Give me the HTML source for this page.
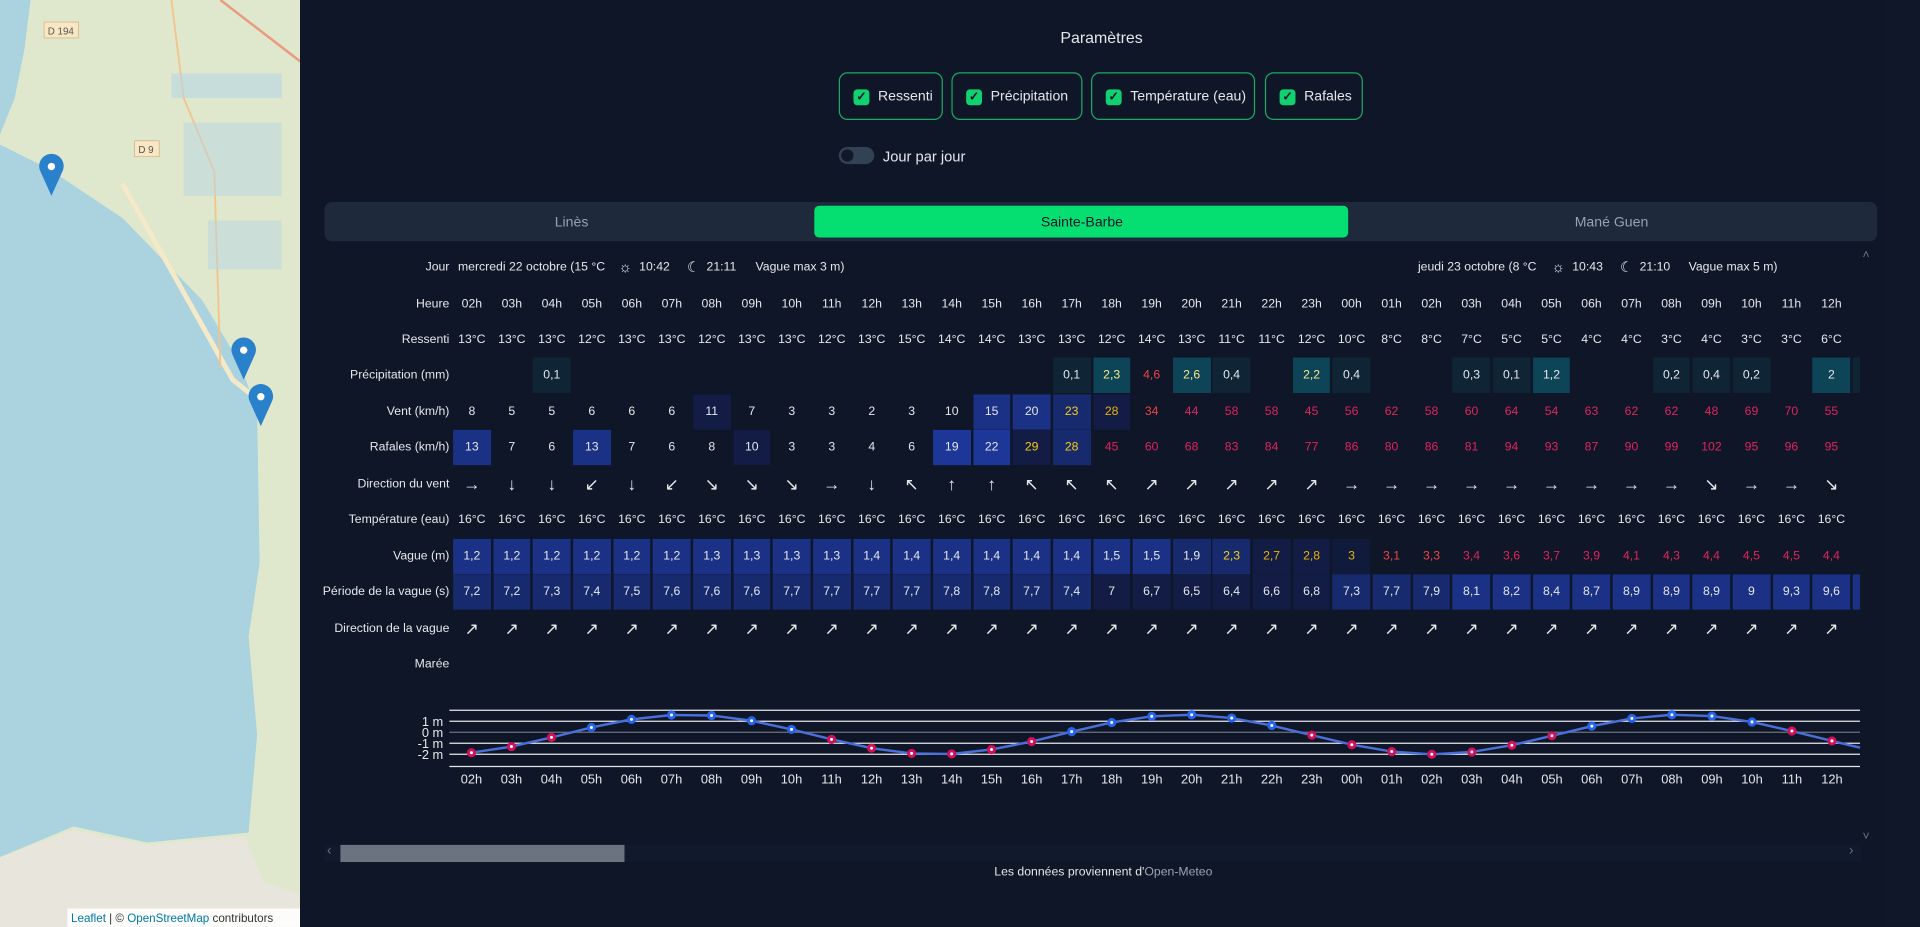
<!DOCTYPE html>
<html><head><meta charset="utf-8"><style>
html,body{margin:0;padding:0;width:1920px;height:927px;overflow:hidden;background:#0e1627;}
#w{position:absolute;left:0;top:0;width:1568px;height:757px;transform:scale(1.22449);transform-origin:0 0;font-family:"Liberation Sans",sans-serif;color:#e5e7eb;background:#0e1627;}
.a{position:absolute;}
.btn{position:absolute;top:59px;height:39px;border:1px solid #1fa866;border-radius:7px;font-size:11.5px;line-height:39px;box-sizing:border-box;padding-left:31px;color:#e5e7eb;}
.btn:before{content:"✓";position:absolute;left:11px;top:13px;width:13px;height:13px;background:#10d070;border-radius:3px;color:#0e1627;font-size:10px;line-height:13px;text-align:center;font-weight:bold;}
.row{position:absolute;left:0;width:1568px;height:29px;font-size:10px;}
.lab{position:absolute;right:1201px;top:0;line-height:29px;white-space:nowrap;}
.cs{position:absolute;left:370px;top:0;width:1149px;height:29px;overflow:hidden;white-space:nowrap;font-size:0;}
.cs span{display:inline-block;width:30.7px;margin-right:1.98px;height:29px;line-height:29px;text-align:center;font-size:10px;vertical-align:top;}
.ar span{font-size:14px;}
.b1{background:#121c44}.b2{background:#172a6e}.b3{background:#1a3186}.b4{background:#1d3799}
.p1{background:#0f2434}.p2{background:#0d4458}
.y{color:#facc15}.o{color:#eab308}.r{color:#ef4444}.k{color:#e0245e}.ly{color:#fde68a}
.j{position:absolute;line-height:29px;white-space:nowrap;}
</style></head><body><div id="w">
<!-- map -->
<svg class="a" style="left:0;top:0" width="245" height="757">
<rect width="245" height="757" fill="#dfe8cc"/>
<polygon points="0,0 25,0 20,40 12,80 0,110" fill="#aad3df"/>
<polygon points="0,118 40,138 100,178 165,245 195,295 210,335 212,460 203,520 210,600 203,680 120,688 60,675 0,700" fill="#aad3df"/>
<polygon points="0,700 60,678 120,690 200,683 215,720 245,730 245,757 0,757" fill="#e8e6dc"/>
<path d="M100,150 L190,310 L215,330" stroke="#f4e9c8" stroke-width="4" fill="none"/>
<path d="M140,0 L150,80 L175,140 L180,300" stroke="#f3c48a" stroke-width="1.5" fill="none"/>
<path d="M180,0 L245,50" stroke="#e99a7f" stroke-width="2" fill="none"/>
<g fill="#b8d6e4"><rect x="140" y="60" width="90" height="20" opacity=".6"/><rect x="150" y="100" width="80" height="60" opacity=".5"/><rect x="170" y="180" width="60" height="40" opacity=".5"/></g>
<rect x="36" y="18" width="28" height="13" fill="#f9e7c3" stroke="#c9a77a" stroke-width=".5"/><text x="39" y="28" font-size="8" fill="#555" font-family="Liberation Sans">D 194</text>
<rect x="110" y="115" width="20" height="13" fill="#f9e7c3" stroke="#c9a77a" stroke-width=".5"/><text x="113" y="125" font-size="8" fill="#555" font-family="Liberation Sans">D 9</text>
<g fill="#2a81cb"><path d="M42,160 L33,140 A10,10 0 1 1 51,140 Z"/><path d="M199,310 L190,290 A10,10 0 1 1 208,290 Z"/><path d="M213,348 L204,328 A10,10 0 1 1 222,328 Z"/></g>
<g fill="#fff"><circle cx="42" cy="136" r="3"/><circle cx="199" cy="286" r="3"/><circle cx="213" cy="324" r="3"/></g>
<rect x="55" y="742" width="190" height="15" fill="#fff" opacity=".85"/>
<text x="58" y="753" font-size="9.5" fill="#333" font-family="Liberation Sans"><tspan fill="#0078a8">Leaflet</tspan> | © <tspan fill="#0078a8">OpenStreetMap</tspan> contributors</text>
</svg>
<div class="a" style="left:1538px;top:0;width:30px;height:757px;background:#0f1729"></div>
<div class="a" style="left:866px;top:23px;font-size:13px;">Paramètres</div>
<div class="btn" style="left:685px;width:85px;">Ressenti</div>
<div class="btn" style="left:777px;width:107px;">Précipitation</div>
<div class="btn" style="left:891px;width:134px;">Température (eau)</div>
<div class="btn" style="left:1033px;width:80px;">Rafales</div>
<div class="a" style="left:685px;top:120px;width:29px;height:14px;border-radius:8px;background:#334155;"><div style="position:absolute;left:2px;top:2px;width:10px;height:10px;border-radius:5px;background:#111827"></div></div>
<div class="a" style="left:721px;top:121px;font-size:12px;">Jour par jour</div>
<div class="a" style="left:265px;top:165px;width:1268px;height:32px;background:#1e293b;border-radius:6px;"></div>
<div class="a" style="left:665px;top:168px;width:436px;height:26px;background:#05df72;border-radius:4px;"></div>
<div class="a" style="left:453px;top:176px;font-size:11.5px;color:#94a3b8;">Linès</div>
<div class="a" style="left:850px;top:176px;font-size:11.5px;color:#0e1627;">Sainte-Barbe</div>
<div class="a" style="left:1286px;top:176px;font-size:11.5px;color:#94a3b8;">Mané Guen</div>

<div class="row" style="top:204px"><div class="lab">Jour</div>
<div class="j" style="left:374px">mercredi 22 octobre (15 °C</div>
<div class="j" style="left:505px;font-size:12px">☼</div><div class="j" style="left:522px">10:42</div><div class="j" style="left:561px;font-size:12px">☾</div><div class="j" style="left:577px">21:11</div><div class="j" style="left:617px">Vague max 3 m)</div>
<div class="j" style="left:1158px">jeudi 23 octobre (8 °C</div>
<div class="j" style="left:1267px;font-size:12px">☼</div><div class="j" style="left:1284px">10:43</div><div class="j" style="left:1323px;font-size:12px">☾</div><div class="j" style="left:1339px">21:10</div><div class="j" style="left:1379px">Vague max 5 m)</div>
</div>
<div class="row" style="top:234px"><div class="lab">Heure</div><div class="cs"><span>02h</span><span>03h</span><span>04h</span><span>05h</span><span>06h</span><span>07h</span><span>08h</span><span>09h</span><span>10h</span><span>11h</span><span>12h</span><span>13h</span><span>14h</span><span>15h</span><span>16h</span><span>17h</span><span>18h</span><span>19h</span><span>20h</span><span>21h</span><span>22h</span><span>23h</span><span>00h</span><span>01h</span><span>02h</span><span>03h</span><span>04h</span><span>05h</span><span>06h</span><span>07h</span><span>08h</span><span>09h</span><span>10h</span><span>11h</span><span>12h</span></div></div>
<div class="row" style="top:263px"><div class="lab">Ressenti</div><div class="cs"><span>13°C</span><span>13°C</span><span>13°C</span><span>12°C</span><span>13°C</span><span>13°C</span><span>12°C</span><span>13°C</span><span>13°C</span><span>12°C</span><span>13°C</span><span>15°C</span><span>14°C</span><span>14°C</span><span>13°C</span><span>13°C</span><span>12°C</span><span>14°C</span><span>13°C</span><span>11°C</span><span>11°C</span><span>12°C</span><span>10°C</span><span>8°C</span><span>8°C</span><span>7°C</span><span>5°C</span><span>5°C</span><span>4°C</span><span>4°C</span><span>3°C</span><span>4°C</span><span>3°C</span><span>3°C</span><span>6°C</span></div></div>
<div class="row" style="top:292px"><div class="lab">Précipitation (mm)</div><div class="cs"><span></span><span></span><span class="p1">0,1</span><span></span><span></span><span></span><span></span><span></span><span></span><span></span><span></span><span></span><span></span><span></span><span></span><span class="p1">0,1</span><span class="p2 ly">2,3</span><span class="r">4,6</span><span class="p2 ly">2,6</span><span class="p1">0,4</span><span></span><span class="p2 ly">2,2</span><span class="p1">0,4</span><span></span><span></span><span class="p1">0,3</span><span class="p1">0,1</span><span class="p2">1,2</span><span></span><span></span><span class="p1">0,2</span><span class="p1">0,4</span><span class="p1">0,2</span><span></span><span class="p2">2</span><span class="p1"></span></div></div>
<div class="row" style="top:322px"><div class="lab">Vent (km/h)</div><div class="cs"><span>8</span><span>5</span><span>5</span><span>6</span><span>6</span><span>6</span><span class="b1">11</span><span>7</span><span>3</span><span>3</span><span>2</span><span>3</span><span>10</span><span class="b3">15</span><span class="b3">20</span><span class="b2 y">23</span><span class="b1 o">28</span><span class="r">34</span><span class="k">44</span><span class="k">58</span><span class="k">58</span><span class="k">45</span><span class="k">56</span><span class="k">62</span><span class="k">58</span><span class="k">60</span><span class="k">64</span><span class="k">54</span><span class="k">63</span><span class="k">62</span><span class="k">62</span><span class="k">48</span><span class="k">69</span><span class="k">70</span><span class="k">55</span></div></div>
<div class="row" style="top:351px"><div class="lab">Rafales (km/h)</div><div class="cs"><span class="b3">13</span><span>7</span><span>6</span><span class="b3">13</span><span>7</span><span>6</span><span>8</span><span class="b1">10</span><span>3</span><span>3</span><span>4</span><span>6</span><span class="b4">19</span><span class="b4">22</span><span class="b1 y">29</span><span class="b2 y">28</span><span class="k">45</span><span class="k">60</span><span class="k">68</span><span class="k">83</span><span class="k">84</span><span class="k">77</span><span class="k">86</span><span class="k">80</span><span class="k">86</span><span class="k">81</span><span class="k">94</span><span class="k">93</span><span class="k">87</span><span class="k">90</span><span class="k">99</span><span class="k">102</span><span class="k">95</span><span class="k">96</span><span class="k">95</span></div></div>
<div class="row" style="top:381px"><div class="lab">Direction du vent</div><div class="cs ar"><span>→</span><span>↓</span><span>↓</span><span>↙</span><span>↓</span><span>↙</span><span>↘</span><span>↘</span><span>↘</span><span>→</span><span>↓</span><span>↖</span><span>↑</span><span>↑</span><span>↖</span><span>↖</span><span>↖</span><span>↗</span><span>↗</span><span>↗</span><span>↗</span><span>↗</span><span>→</span><span>→</span><span>→</span><span>→</span><span>→</span><span>→</span><span>→</span><span>→</span><span>→</span><span>↘</span><span>→</span><span>→</span><span>↘</span></div></div>
<div class="row" style="top:410px"><div class="lab">Température (eau)</div><div class="cs"><span>16°C</span><span>16°C</span><span>16°C</span><span>16°C</span><span>16°C</span><span>16°C</span><span>16°C</span><span>16°C</span><span>16°C</span><span>16°C</span><span>16°C</span><span>16°C</span><span>16°C</span><span>16°C</span><span>16°C</span><span>16°C</span><span>16°C</span><span>16°C</span><span>16°C</span><span>16°C</span><span>16°C</span><span>16°C</span><span>16°C</span><span>16°C</span><span>16°C</span><span>16°C</span><span>16°C</span><span>16°C</span><span>16°C</span><span>16°C</span><span>16°C</span><span>16°C</span><span>16°C</span><span>16°C</span><span>16°C</span></div></div>
<div class="row" style="top:440px"><div class="lab">Vague (m)</div><div class="cs"><span class="b3">1,2</span><span class="b3">1,2</span><span class="b3">1,2</span><span class="b3">1,2</span><span class="b3">1,2</span><span class="b3">1,2</span><span class="b3">1,3</span><span class="b3">1,3</span><span class="b3">1,3</span><span class="b3">1,3</span><span class="b3">1,4</span><span class="b3">1,4</span><span class="b3">1,4</span><span class="b3">1,4</span><span class="b3">1,4</span><span class="b3">1,4</span><span class="b3">1,5</span><span class="b3">1,5</span><span class="b2">1,9</span><span class="b2 y">2,3</span><span class="b1 o">2,7</span><span class="b1 o">2,8</span><span class="o" style="background:#101a3a">3</span><span class="r">3,1</span><span class="r">3,3</span><span class="k">3,4</span><span class="k">3,6</span><span class="k">3,7</span><span class="k">3,9</span><span class="k">4,1</span><span class="k">4,3</span><span class="k">4,4</span><span class="k">4,5</span><span class="k">4,5</span><span class="k">4,4</span></div></div>
<div class="row" style="top:469px"><div class="lab">Période de la vague (s)</div><div class="cs"><span class="b2">7,2</span><span class="b2">7,2</span><span class="b2">7,3</span><span class="b2">7,4</span><span class="b2">7,5</span><span class="b2">7,6</span><span class="b2">7,6</span><span class="b2">7,6</span><span class="b2">7,7</span><span class="b2">7,7</span><span class="b2">7,7</span><span class="b2">7,7</span><span class="b2">7,8</span><span class="b2">7,8</span><span class="b2">7,7</span><span class="b2">7,4</span><span class="b1">7</span><span class="b1">6,7</span><span class="b1">6,5</span><span class="b1">6,4</span><span class="b1">6,6</span><span class="b1">6,8</span><span class="b2">7,3</span><span class="b2">7,7</span><span class="b2">7,9</span><span class="b3">8,1</span><span class="b3">8,2</span><span class="b3">8,4</span><span class="b3">8,7</span><span class="b3">8,9</span><span class="b3">8,9</span><span class="b3">8,9</span><span class="b3">9</span><span class="b3">9,3</span><span class="b3">9,6</span><span class="b3"></span></div></div>
<div class="row" style="top:499px"><div class="lab">Direction de la vague</div><div class="cs ar"><span>↗</span><span>↗</span><span>↗</span><span>↗</span><span>↗</span><span>↗</span><span>↗</span><span>↗</span><span>↗</span><span>↗</span><span>↗</span><span>↗</span><span>↗</span><span>↗</span><span>↗</span><span>↗</span><span>↗</span><span>↗</span><span>↗</span><span>↗</span><span>↗</span><span>↗</span><span>↗</span><span>↗</span><span>↗</span><span>↗</span><span>↗</span><span>↗</span><span>↗</span><span>↗</span><span>↗</span><span>↗</span><span>↗</span><span>↗</span><span>↗</span></div></div>
<div class="row" style="top:528px"><div class="lab">Marée</div></div>

<svg class="a" style="left:0;top:560px" width="1568" height="90" font-family="Liberation Sans" font-size="10.5" fill="#e5e7eb">
<g stroke="#e5e7eb" stroke-width="1"><line x1="367" y1="20" x2="1519" y2="20"/><line x1="367" y1="29" x2="1519" y2="29"/><line x1="367" y1="47" x2="1519" y2="47"/><line x1="367" y1="56" x2="1519" y2="56"/><line x1="367" y1="66" x2="1519" y2="66"/></g>
<line x1="367" y1="38" x2="1519" y2="38" stroke="#6b7280"/>
<g text-anchor="end"><text x="362" y="33">1 m</text><text x="362" y="42">0 m</text><text x="362" y="51">-1 m</text><text x="362" y="60">-2 m</text></g>
<polyline fill="none" stroke="#4a6fd8" stroke-width="2" points="385,54.7 417.7,49.7 450.4,42.2 483,34.1 515.7,27.5 548.4,23.9 581.1,24.3 613.8,28.6 646.4,35.7 679.1,43.8 711.8,51 744.5,55.3 777.2,55.7 809.8,52.1 842.5,45.6 875.2,37.5 907.9,30 940.6,25 973.2,23.7 1005.9,26.4 1038.6,32.5 1071.3,40.4 1104,48.2 1136.6,53.8 1169.3,56 1202,54.1 1234.7,48.6 1267.4,40.9 1300,33 1332.7,26.7 1365.4,23.7 1398.1,24.8 1430.8,29.6 1463.4,37 1496.1,45.1 1519,50.6"/>
<g stroke-width="2.5" fill="#fff">
<circle cx="385" cy="54.7" r="2.5" stroke="#d0105a"/><circle cx="417.7" cy="49.7" r="2.5" stroke="#d0105a"/><circle cx="450.4" cy="42.2" r="2.5" stroke="#d0105a"/><circle cx="483" cy="34.1" r="2.5" stroke="#2563eb"/><circle cx="515.7" cy="27.5" r="2.5" stroke="#2563eb"/><circle cx="548.4" cy="23.9" r="2.5" stroke="#2563eb"/><circle cx="581.1" cy="24.3" r="2.5" stroke="#2563eb"/><circle cx="613.8" cy="28.6" r="2.5" stroke="#2563eb"/><circle cx="646.4" cy="35.7" r="2.5" stroke="#2563eb"/><circle cx="679.1" cy="43.8" r="2.5" stroke="#d0105a"/><circle cx="711.8" cy="51" r="2.5" stroke="#d0105a"/><circle cx="744.5" cy="55.3" r="2.5" stroke="#d0105a"/><circle cx="777.2" cy="55.7" r="2.5" stroke="#d0105a"/><circle cx="809.8" cy="52.1" r="2.5" stroke="#d0105a"/><circle cx="842.5" cy="45.6" r="2.5" stroke="#d0105a"/><circle cx="875.2" cy="37.5" r="2.5" stroke="#2563eb"/><circle cx="907.9" cy="30" r="2.5" stroke="#2563eb"/><circle cx="940.6" cy="25" r="2.5" stroke="#2563eb"/><circle cx="973.2" cy="23.7" r="2.5" stroke="#2563eb"/><circle cx="1005.9" cy="26.4" r="2.5" stroke="#2563eb"/><circle cx="1038.6" cy="32.5" r="2.5" stroke="#2563eb"/><circle cx="1071.3" cy="40.4" r="2.5" stroke="#d0105a"/><circle cx="1104" cy="48.2" r="2.5" stroke="#d0105a"/><circle cx="1136.6" cy="53.8" r="2.5" stroke="#d0105a"/><circle cx="1169.3" cy="56" r="2.5" stroke="#d0105a"/><circle cx="1202" cy="54.1" r="2.5" stroke="#d0105a"/><circle cx="1234.7" cy="48.6" r="2.5" stroke="#d0105a"/><circle cx="1267.4" cy="40.9" r="2.5" stroke="#d0105a"/><circle cx="1300" cy="33" r="2.5" stroke="#2563eb"/><circle cx="1332.7" cy="26.7" r="2.5" stroke="#2563eb"/><circle cx="1365.4" cy="23.7" r="2.5" stroke="#2563eb"/><circle cx="1398.1" cy="24.8" r="2.5" stroke="#2563eb"/><circle cx="1430.8" cy="29.6" r="2.5" stroke="#2563eb"/><circle cx="1463.4" cy="37" r="2.5" stroke="#d0105a"/><circle cx="1496.1" cy="45.1" r="2.5" stroke="#d0105a"/></g>
<g text-anchor="middle"><text x="385" y="80">02h</text><text x="417.7" y="80">03h</text><text x="450.4" y="80">04h</text><text x="483" y="80">05h</text><text x="515.7" y="80">06h</text><text x="548.4" y="80">07h</text><text x="581.1" y="80">08h</text><text x="613.8" y="80">09h</text><text x="646.4" y="80">10h</text><text x="679.1" y="80">11h</text><text x="711.8" y="80">12h</text><text x="744.5" y="80">13h</text><text x="777.2" y="80">14h</text><text x="809.8" y="80">15h</text><text x="842.5" y="80">16h</text><text x="875.2" y="80">17h</text><text x="907.9" y="80">18h</text><text x="940.6" y="80">19h</text><text x="973.2" y="80">20h</text><text x="1005.9" y="80">21h</text><text x="1038.6" y="80">22h</text><text x="1071.3" y="80">23h</text><text x="1104" y="80">00h</text><text x="1136.6" y="80">01h</text><text x="1169.3" y="80">02h</text><text x="1202" y="80">03h</text><text x="1234.7" y="80">04h</text><text x="1267.4" y="80">05h</text><text x="1300" y="80">06h</text><text x="1332.7" y="80">07h</text><text x="1365.4" y="80">08h</text><text x="1398.1" y="80">09h</text><text x="1430.8" y="80">10h</text><text x="1463.4" y="80">11h</text><text x="1496.1" y="80">12h</text></g>
</svg>
<div class="a" style="left:265px;top:690px;width:1255px;height:14px;background:#111a2c"></div>
<div class="a" style="left:278px;top:690px;width:232px;height:14px;background:#6b7280"></div>
<div class="a" style="left:267px;top:689px;font-size:11px;color:#6b7280">‹</div>
<div class="a" style="left:1510px;top:689px;font-size:11px;color:#6b7280">›</div>
<div class="a" style="left:1521px;top:203px;font-size:10px;color:#6b7280">˄</div>
<div class="a" style="left:1521px;top:678px;font-size:10px;color:#6b7280">˅</div>
<div class="a" style="left:812px;top:707px;font-size:10px;">Les données proviennent d'<span style="color:#9ca3af">Open-Meteo</span></div>
</div></body></html>
